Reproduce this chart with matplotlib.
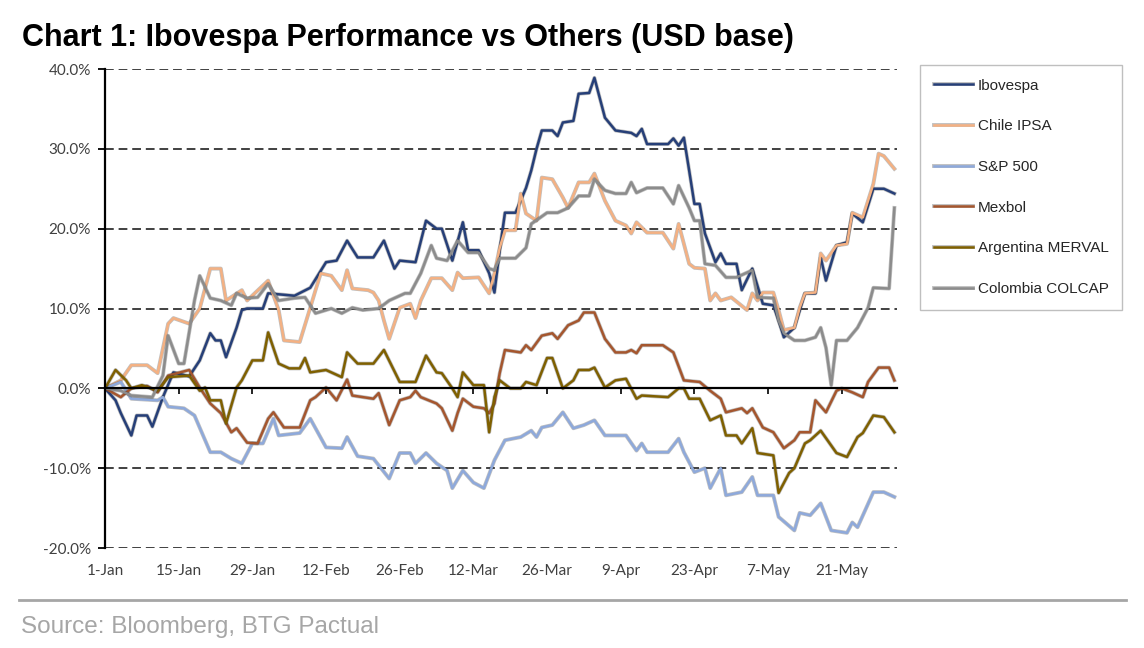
import matplotlib
matplotlib.use("Agg")
import matplotlib.pyplot as plt
import matplotlib.patheffects as pe
from matplotlib.lines import Line2D
import pandas as pd

# days counted from 1-Jan, values in % (USD base)
start = pd.Timestamp("2017-01-01")

ibov_days = [0, 2, 3, 5, 6, 8, 9, 11, 13, 16, 18, 20, 21, 22, 23, 25, 26, 27, 30, 31, 36, 39, 42, 44,
             46, 48, 51, 53, 55, 56, 59, 61, 63, 64, 66, 68, 69, 71, 73, 74, 75, 76, 78, 80, 81, 82,
             83, 85, 86, 87, 89, 90, 92, 93, 95, 97, 100, 101, 102, 103, 107, 108, 109, 110, 111,
             112, 113, 114, 116, 117, 118, 120, 121, 123, 125, 127, 128, 129, 131, 133, 135, 136,
             137, 139, 141, 142, 144, 146, 148, 150]
ibov = [0, -1.5, -3.1, -5.9, -3.4, -3.4, -4.8, -1.1, 2.0, 1.5, 3.5, 6.9, 6.0, 6.0, 3.9, 7.6, 9.8, 10.0,
        10.0, 11.9, 11.6, 12.6, 15.8, 16.0, 18.5, 16.4, 16.4, 18.5, 15.0, 16.0, 15.8, 21.0, 20.0, 20.0,
        16.0, 20.8, 17.3, 17.3, 14.4, 12.0, 17.3, 22.0, 22.0, 25.1, 27.3, 30.0, 32.3, 32.3, 31.6, 33.3,
        33.5, 36.9, 37.0, 38.9, 33.9, 32.3, 32.0, 31.6, 32.5, 30.6, 30.6, 31.3, 30.4, 31.4, 27.3, 23.1,
        23.1, 19.4, 15.8, 16.9, 15.6, 15.6, 12.3, 15.0, 10.6, 10.4, 8.5, 6.4, 7.6, 11.9, 11.9, 16.4,
        13.5, 17.9, 18.3, 21.9, 20.8, 25.0, 25.0, 24.4]

ipsa_days = [0, 3, 5, 8, 10, 12, 13, 16, 18, 20, 22, 23, 26, 27, 31, 33, 34, 37, 39, 40, 41, 43, 45,
             46, 47, 50, 51, 52, 53, 54, 56, 58, 59, 60, 62, 64, 66, 67, 68, 71, 73, 74, 75, 76, 78,
             79, 80, 82, 83, 85, 87, 88, 90, 92, 93, 95, 97, 99, 100, 101, 103, 106, 108, 109, 111,
             112, 114, 115, 116, 117, 119, 122, 123, 124, 125, 127, 128, 129, 131, 132, 133, 135,
             136, 137, 139, 141, 142, 144, 146, 147, 148, 150]
ipsa = [0, 1.0, 2.9, 2.9, 1.9, 8.1, 8.8, 8.1, 10.0, 15.0, 15.0, 11.0, 12.3, 11.0, 13.5, 9.8, 6.0, 5.8,
        10.1, 12.3, 14.4, 14.1, 12.3, 14.8, 12.5, 12.3, 12.0, 11.0, 8.5, 6.2, 10.1, 10.6, 8.8, 11.0,
        13.8, 13.8, 12.3, 14.5, 13.8, 13.9, 11.9, 14.4, 17.6, 19.8, 19.8, 24.4, 21.9, 21.0, 26.4, 26.2,
        23.9, 22.6, 25.8, 25.8, 26.9, 23.5, 21.0, 20.4, 19.4, 20.8, 19.5, 19.5, 17.5, 20.6, 15.6, 15.1,
        15.0, 11.0, 11.9, 11.0, 11.4, 9.8, 11.9, 11.0, 12.0, 12.0, 9.8, 7.3, 7.6, 10.1, 11.9, 12.0,
        16.9, 16.0, 17.9, 18.1, 22.0, 21.4, 25.6, 29.4, 29.1, 27.5]

spx_days = [0, 3, 5, 10, 11, 12, 15, 17, 20, 22, 24, 26, 28, 30, 32, 33, 37, 39, 42, 45, 46, 48, 51,
            54, 56, 58, 59, 61, 63, 65, 66, 68, 70, 72, 74, 76, 79, 81, 82, 83, 85, 87, 89, 91, 93,
            95, 99, 101, 102, 103, 107, 109, 110, 112, 114, 115, 117, 118, 121, 123, 124, 127, 128,
            131, 132, 134, 136, 138, 141, 142, 143, 146, 148, 150]
spx = [0, 0.8, -1.3, -1.5, -1.1, -2.3, -2.5, -3.4, -8.0, -8.0, -8.8, -9.4, -6.9, -6.9, -3.8, -5.9,
       -5.6, -3.8, -7.4, -7.5, -6.1, -8.5, -8.8, -11.3, -8.1, -8.1, -9.4, -8.1, -9.4, -10.3, -12.5,
       -10.3, -11.8, -12.5, -9.0, -6.5, -6.1, -5.3, -6.1, -4.9, -4.6, -3.0, -5.0, -4.6, -4.0, -5.9,
       -5.9, -7.8, -6.9, -8.0, -8.0, -6.3, -8.0, -10.5, -10.0, -12.5, -10.0, -13.4, -13.0, -11.1,
       -13.4, -13.4, -16.1, -17.8, -15.6, -15.9, -14.4, -17.8, -18.1, -16.8, -17.4, -13.0, -13.0,
       -13.6]

mex_days = [0, 3, 5, 8, 10, 12, 16, 18, 20, 22, 24, 25, 27, 29, 31, 32, 34, 37, 39, 40, 42, 44, 46,
            47, 51, 52, 54, 56, 58, 59, 60, 63, 64, 66, 67, 68, 70, 72, 73, 74, 75, 76, 79, 80, 81,
            83, 85, 86, 88, 90, 91, 93, 95, 97, 99, 100, 101, 102, 106, 108, 110, 113, 115, 117,
            118, 121, 122, 123, 125, 127, 129, 131, 132, 134, 135, 137, 139, 140, 142, 144, 145,
            147, 149, 150]
mex = [0, -1.1, 0, 0.3, -0.5, 1.6, 2.3, 0.1, -1.9, -3.1, -5.5, -5.0, -6.8, -6.9, -3.8, -3.0, -4.9,
       -4.9, -1.5, -1.1, 0.1, -1.5, 1.1, -0.9, -1.3, -0.6, -4.6, -1.5, -1.1, -0.3, -1.1, -1.9, -2.5,
       -5.3, -3.1, -1.3, -2.3, -2.5, -3.1, -1.9, 1.9, 4.8, 4.5, 5.4, 4.8, 6.6, 6.9, 6.2, 7.9, 8.5,
       9.5, 9.5, 6.2, 4.5, 4.5, 4.8, 4.4, 5.4, 5.4, 4.5, 1.0, 0.8, -0.3, -1.3, -3.0, -2.5, -3.1, -2.5,
       -4.9, -5.5, -7.5, -6.5, -5.5, -5.5, -1.5, -3.0, -0.3, 0, -0.5, -1.1, 0.8, 2.6, 2.6, 1.0]

merv_days = [0, 2, 4, 5, 7, 10, 12, 16, 18, 19, 20, 22, 23, 25, 26, 28, 30, 31, 33, 35, 37, 38, 39,
             42, 45, 46, 48, 51, 53, 56, 59, 61, 63, 64, 66, 67, 68, 70, 72, 73, 74, 75, 77, 79, 80,
             82, 84, 85, 87, 89, 90, 92, 93, 95, 97, 99, 101, 102, 107, 109, 110, 111, 113, 115,
             117, 118, 120, 121, 123, 124, 127, 128, 130, 131, 133, 134, 136, 139, 141, 143, 144,
             146, 148, 150]
merv = [0, 2.3, 1.0, 0, 0.4, -0.3, 1.4, 1.6, -0.3, 0.1, -1.5, -1.5, -4.4, 0.1, 1.0, 3.5, 3.5, 7.0,
        3.1, 2.5, 2.5, 3.8, 2.0, 2.3, 1.4, 4.5, 3.1, 3.1, 4.8, 0.8, 0.8, 4.1, 2.0, 1.9, 0, -1.1, 2.0,
        0.4, 0.4, -5.5, -1.1, 1.0, 0, 0, 0.8, 0.4, 3.8, 3.8, 0, 1.0, 2.3, 2.3, 2.6, 0.1, 1.0, 1.2,
        -1.3, -0.9, -1.1, 0, 0, -1.3, -1.3, -4.0, -3.4, -5.9, -5.9, -6.9, -5.0, -8.1, -8.4, -13.1,
        -10.6, -10.0, -6.9, -6.5, -5.3, -8.1, -8.6, -6.1, -5.6, -3.4, -3.6, -5.5]

col_days = [0, 3, 5, 9, 11, 12, 14, 15, 17, 18, 20, 22, 24, 25, 27, 29, 31, 33, 36, 38, 40, 43, 45,
            47, 49, 52, 54, 57, 58, 60, 62, 63, 65, 67, 69, 71, 73, 74, 75, 78, 80, 81, 84, 86, 88,
            90, 92, 93, 95, 97, 99, 100, 101, 103, 106, 108, 109, 111, 112, 113, 114, 116, 118, 120,
            123, 124, 127, 128, 129, 131, 133, 135, 136, 137, 138, 139, 141, 143, 145, 146, 149, 150]
col = [0, -0.3, -0.9, -1.1, 1.6, 6.6, 3.1, 3.1, 11.0, 14.1, 11.3, 11.0, 10.4, 11.9, 11.3, 11.4, 13.1,
       11.0, 11.3, 11.4, 9.4, 10.0, 9.4, 10.1, 9.8, 10.0, 11.0, 11.9, 11.9, 14.4, 17.9, 16.3, 16.0,
       18.5, 17.0, 17.0, 15.0, 14.8, 16.3, 16.3, 17.6, 20.6, 22.0, 22.0, 22.6, 24.1, 24.1, 26.2, 24.8,
       24.4, 24.4, 25.8, 24.5, 25.1, 25.1, 23.1, 25.4, 22.6, 21.0, 21.0, 15.6, 15.4, 13.9, 13.9, 14.8,
       11.4, 11.3, 8.5, 6.9, 6.0, 6.0, 6.4, 7.6, 5.1, 0.4, 6.0, 6.0, 7.6, 10.1, 12.6, 12.5, 22.6]

names = ["Ibovespa", "Chile IPSA", "S&P 500", "Mexbol", "Argentina MERVAL", "Colombia COLCAP"]
colors = ["#263F78", "#F4B183", "#8EA9DB", "#A5562E", "#7F6000", "#8C8C8C"]
all_days = [ibov_days, ipsa_days, spx_days, mex_days, merv_days, col_days]
all_vals = [ibov, ipsa, spx, mex, merv, col]

tick_dates = pd.date_range(start, periods=11, freq="14D")
tick_labels = [f"{d.day}-{d.strftime('%b')}" for d in tick_dates]

fig = plt.figure(figsize=(11.44, 6.48), dpi=100)
ax = fig.add_axes([0.0918, 0.1543, 0.6923, 0.7392])

for name, days, vals, c in zip(names, all_days, all_vals, colors):
    dates = start + pd.to_timedelta(days, unit="D")
    ax.plot(dates, vals, color=c, lw=1.8, label=name,
            path_effects=[pe.Stroke(linewidth=2.8, foreground="#303030", alpha=0.3), pe.Normal()])

ax.set_ylim(-20, 40)
ax.set_xlim(start, start + pd.Timedelta(days=150.5))
ax.set_yticks(range(-20, 41, 10))
ax.set_yticklabels([f"{v:.1f}%" for v in range(-20, 41, 10)], fontfamily="Lato",
                   fontsize=11, color="#404040")
ax.tick_params(axis="y", direction="out", length=5, width=1.3, pad=5)
for v in range(-20, 41, 10):
    if v != 0:
        ax.axhline(v, color="#404040", lw=1.4, ls=(0, (4.5, 2.5)), zorder=1)

ax.spines["top"].set_visible(False)
ax.spines["right"].set_visible(False)
ax.spines["left"].set_linewidth(1.6)
ax.spines["bottom"].set_position(("data", 0))
ax.spines["bottom"].set_linewidth(1.6)
ax.set_xticks(tick_dates)
ax.tick_params(axis="x", direction="out", length=4, width=1.2, labelbottom=False)
for d, lab in zip(tick_dates, tick_labels):
    ax.text(d, -0.048, lab, transform=ax.get_xaxis_transform(), ha="center", va="center",
            fontfamily="Lato", fontsize=11, color="#404040")

leg = ax.legend(loc="upper left", bbox_to_anchor=(0.804, 0.9), bbox_transform=fig.transFigure,
                fancybox=False, edgecolor="#BFBFBF", framealpha=1,
                prop={"family": "Liberation Sans", "size": 11},
                labelspacing=1.75, handlelength=2.6, handletextpad=0.3, borderpad=0.9,
                borderaxespad=0)
for t in leg.get_texts():
    t.set_color("#262626")

fig.text(0.019, 0.941, "Chart 1: Ibovespa Performance vs Others (USD base)",
         fontfamily="Liberation Sans", fontsize=22, fontweight="bold", va="center")
fig.add_artist(Line2D([0.017, 0.984], [0.074, 0.074], transform=fig.transFigure,
                      color="#A6A6A6", lw=2))
fig.text(0.018, 0.033, "Source: Bloomberg, BTG Pactual", fontfamily="Liberation Sans",
         fontsize=17.5, color="#A6A6A6", va="center")

fig.savefig("out.png", dpi=100)
